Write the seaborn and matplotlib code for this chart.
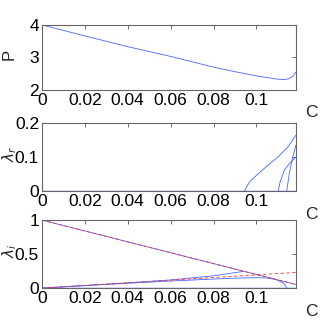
import matplotlib
matplotlib.use('Agg')
import matplotlib.pyplot as plt
import seaborn as sns
import pandas as pd

sns.set_style('white')
plt.rcParams['font.family'] = ['Liberation Sans Narrow', 'Liberation Sans', 'DejaVu Sans']
plt.rcParams['mathtext.fontset'] = 'dejavusans'

# --- P(C) ---
p_c = [0.0, 0.02, 0.04, 0.06, 0.08, 0.09, 0.1, 0.105, 0.11, 0.113, 0.115, 0.117, 0.1184]
p_val = [4.0, 3.66, 3.33, 3.03, 2.70, 2.56, 2.43, 2.38, 2.33, 2.32, 2.34, 2.42, 2.55]

# --- real parts ---
zero_c = [0.0, 0.1184]
zero_val = [0.0, 0.0]
r1_c = [0.0944, 0.0967, 0.1, 0.1045, 0.11, 0.1146, 0.1184]
r1_val = [0.0, 0.026, 0.046, 0.071, 0.1, 0.129, 0.164]
r2_c = [0.1102, 0.111, 0.113, 0.1153, 0.1184]
r2_val = [0.0, 0.026, 0.061, 0.08, 0.1]
r3_c = [0.1141, 0.1153, 0.1169, 0.1184]
r3_val = [0.0, 0.051, 0.1, 0.135]

# --- imaginary parts ---
down_c = [0.0, 0.1184]
down_val = [1.0, 0.053]
up_red_c = [0.0, 0.1184]
up_red_val = [0.0, 0.23]
b_c = [0.0, 0.02, 0.04, 0.06, 0.08, 0.0937]
b_val = [0.0, 0.038, 0.077, 0.12, 0.18, 0.245]
c_c = [0.0, 0.02, 0.04, 0.06, 0.08, 0.09, 0.1, 0.105, 0.109, 0.112, 0.1135, 0.1141]
c_val = [0.0, 0.036, 0.071, 0.104, 0.133, 0.146, 0.153, 0.148, 0.125, 0.085, 0.04, 0.0]

xticks = [0, 0.02, 0.04, 0.06, 0.08, 0.1]
xtick_labels = ['0', '0.02', '0.04', '0.06', '0.08', '0.1']

fig = plt.figure(figsize=(3.27, 3.27), dpi=100)
left, width = 0.128, 0.777
ax1 = fig.add_axes([left, 0.725, width, 0.199])
ax2 = fig.add_axes([left, 0.416, width, 0.208])
ax3 = fig.add_axes([left, 0.119, width, 0.208])

blue = '#4a66ff'
lw = 0.6


def line(ax, xs, ys, **kw):
    df = pd.DataFrame({'C': xs, 'v': ys})
    sns.lineplot(data=df, x='C', y='v', ax=ax, sort=False, estimator=None, **kw)


line(ax1, p_c, p_val, color=blue, lw=lw)

line(ax2, zero_c, zero_val, color=blue, lw=1.0)
line(ax2, r1_c, r1_val, color=blue, lw=lw)
line(ax2, r2_c, r2_val, color=blue, lw=lw)
line(ax2, r3_c, r3_val, color=blue, lw=lw)

line(ax3, zero_c, zero_val, color=blue, lw=1.0)
line(ax3, down_c, down_val, color=blue, lw=lw)
line(ax3, b_c, b_val, color=blue, lw=lw)
line(ax3, c_c, c_val, color=blue, lw=lw)
line(ax3, down_c, down_val, color='#ff3030', lw=lw, linestyle=(0, (4, 3)))
line(ax3, up_red_c, up_red_val, color='#ff3030', lw=lw, linestyle=(0, (4, 3)))
line(ax3, zero_c, zero_val, color='#ff3030', lw=lw, linestyle=(0, (4, 3)))

ylims = [(2, 4), (0, 0.2), (0, 1)]
yticks = [[2, 3, 4], [0, 0.1, 0.2], [0, 0.5, 1]]
ytick_labels = [['2', '3', '4'], ['0', '0.1', '0.2'], ['0', '0.5', '1']]
ylabels = ['P', r'$\lambda_r$', r'$\lambda_i$']
label_x = [-0.10, -0.088, -0.088]
label_size = [12, 11, 11]

for ax, yl, yt, ytl, lab, lx, ls in zip([ax1, ax2, ax3], ylims, yticks, ytick_labels,
                                        ylabels, label_x, label_size):
    ax.set_xlim(0, 0.1184)
    ax.set_ylim(*yl)
    ax.set_xticks(xticks)
    ax.set_xticklabels(xtick_labels)
    ax.set_yticks(yt)
    ax.set_yticklabels(ytl)
    ax.tick_params(direction='in', length=3, width=0.6, colors='#555555',
                   labelcolor='black', labelsize=12.5, top=True, right=True, pad=2)
    for s in ax.spines.values():
        s.set_color('#666666')
        s.set_linewidth(0.8)
    ax.set_xlabel('')
    ax.set_ylabel(lab, fontsize=ls)
    ax.yaxis.set_label_coords(lx, 0.55)
    ax.text(1.06, -0.35, 'C', transform=ax.transAxes, fontsize=12.5, ha='center', va='center')

fig.savefig('out.png', dpi=100)
